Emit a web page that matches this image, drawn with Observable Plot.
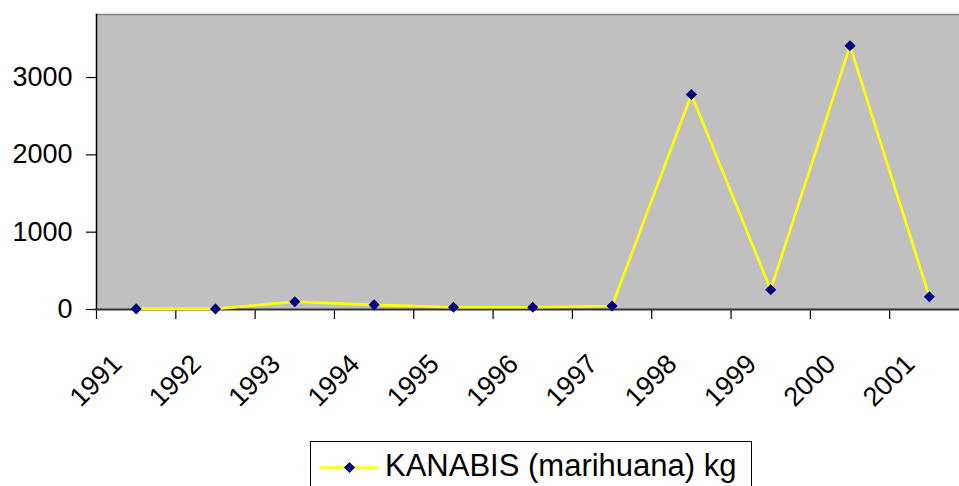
<!DOCTYPE html>
<html>
<head>
<meta charset="utf-8">
<script src="https://cdn.jsdelivr.net/npm/d3@7"></script>
<script src="https://cdn.jsdelivr.net/npm/@observablehq/plot@0.6"></script>
<style>
  html, body { margin: 0; padding: 0; background: #fff; overflow: hidden; width: 959px; height: 486px; }
  body { position: relative; font-family: "Liberation Sans", Arial, sans-serif; }
  #chart { position: absolute; left: 0; top: 0; width: 969px; }
  #chart svg { max-width: none !important; }
  #legend { position: absolute; left: 310px; top: 441px; width: 442px; height: 70px; border: 1px solid #000; background: #fff; box-sizing: border-box; }
  #legend svg { position: absolute; left: 0; top: 0; }
  #legend span { position: absolute; left: 74px; top: 6px; font-size: 31px; line-height: 36px; color: #000; white-space: nowrap; }
</style>
</head>
<body>
<div id="chart"></div>
<div id="legend"></div>
<script>
const years = [1991, 1992, 1993, 1994, 1995, 1996, 1997, 1998, 1999, 2000, 2001];
const kanabis = [8, 8, 100, 60, 30, 30, 45, 2780, 255, 3410, 165];
const yTicks = [0, 1000, 2000, 3000];
const seriesName = "KANABIS (marihuana) kg";

const data = years.map((y, i) => ({year: y, value: kanabis[i]}));
const boundaries = [...years.map(y => y - 0.5), years[years.length - 1] + 0.5];

const font = "Liberation Sans, Arial, sans-serif";

const plot = Plot.plot({
  width: 969,
  height: 440,
  marginLeft: 96,
  marginRight: 0.5,
  marginTop: 14,
  marginBottom: 131,
  style: {fontFamily: font, background: "transparent", overflow: "visible", maxWidth: "none"},
  x: {type: "linear", domain: [boundaries[0], boundaries[boundaries.length - 1]], axis: null},
  y: {domain: [0, 3815], axis: null},
  marks: [
    Plot.frame({fill: "#c0c0c0", stroke: null}),
    Plot.frame({anchor: "top", stroke: "#808080", strokeWidth: 1.5}),
    Plot.axisY({ticks: yTicks, label: null, tickSize: 10, tickPadding: 14, fontSize: 27, tickFormat: d3.format("d"), stroke: "#000", color: "#000", strokeWidth: 1.2}),
    Plot.axisX({ticks: boundaries, label: null, tickSize: 10, tickFormat: () => "", stroke: "#000", strokeWidth: 1.2}),
    Plot.frame({anchor: "left", stroke: "#000", strokeWidth: 1.5}),
    Plot.frame({anchor: "bottom", stroke: "#333", strokeWidth: 2}),
    Plot.line(data, {x: "year", y: "value", stroke: "#ffff00", strokeWidth: 2.6}),
    Plot.dot(data, {x: "year", y: "value", symbol: "diamond2", r: 5, fill: "#000080", stroke: null}),
    Plot.text(years, {x: d => d, y: 0, text: d => String(d), rotate: -45, textAnchor: "end", lineAnchor: "middle", dx: -19, dy: 50, fontSize: 27, fill: "#000"})
  ]
});
document.getElementById("chart").appendChild(plot);

// Legend
const legend = document.getElementById("legend");
const sw = Plot.plot({
  width: 72, height: 60, margin: 0,
  x: {domain: [0, 72], axis: null},
  y: {domain: [0, 60], axis: null, reverse: true},
  style: {background: "transparent"},
  marks: [
    Plot.line([[9, 25], [66, 25]], {x: d => d[0], y: d => d[1], stroke: "#ffff00", strokeWidth: 2.6}),
    Plot.dot([[38, 25]], {x: d => d[0], y: d => d[1], symbol: "diamond2", r: 5, fill: "#000080"})
  ]
});
legend.appendChild(sw);
const label = document.createElement("span");
label.textContent = seriesName;
legend.appendChild(label);
</script>
</body>
</html>
